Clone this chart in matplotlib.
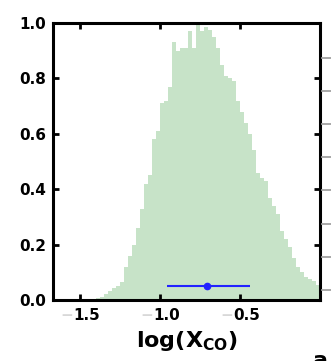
import numpy as np
import matplotlib
matplotlib.use("Agg")
import matplotlib.pyplot as plt

# posterior histogram of log(X_CO), normalised to peak = 1
bin_start = -1.45
bin_width = 0.025
hist_vals = [0.003, 0.005, 0.008, 0.012, 0.022, 0.032, 0.043, 0.052, 0.065, 0.12,
             0.16, 0.20, 0.26, 0.33, 0.42, 0.45, 0.58, 0.61, 0.71, 0.72,
             0.77, 0.93, 0.90, 0.91, 0.91, 0.97, 0.91, 0.995, 0.97, 0.985,
             0.975, 0.95, 0.91, 0.85, 0.81, 0.80, 0.79, 0.72, 0.68, 0.64,
             0.60, 0.54, 0.46, 0.44, 0.43, 0.37, 0.34, 0.31, 0.25, 0.22,
             0.19, 0.15, 0.12, 0.10, 0.083, 0.076, 0.070, 0.055]
edges = bin_start + bin_width * np.arange(len(hist_vals) + 1)

# best fit and range
best = -0.71
err_lo = 0.25
err_hi = 0.27
best_y = 0.05

xticks = [-1.5, -1.0, -0.5]
xtick_digits = ["1.5", "1.0", "0.5"]
yticks = [0.0, 0.2, 0.4, 0.6, 0.8, 1.0]

plt.rcParams["font.family"] = ["DejaVu Sans"]
plt.rcParams["mathtext.fontset"] = "dejavusans"

fig = plt.figure(figsize=(3.31, 3.61), dpi=100)
ax = fig.add_axes([0.160, 0.169, 0.807, 0.767])

ax.stairs(hist_vals, edges, fill=True, color="#c7e3c8", lw=0)
ax.errorbar([best], [best_y], xerr=[[err_lo], [err_hi]], fmt="o", color="#2222ff",
            ms=4.5, lw=1.5, capsize=0, zorder=5)

ax.set_xlim(-1.67, 0.0)
ax.set_ylim(0, 1.0)
ax.set_xticks(xticks)
ax.set_yticks(yticks)
ax.set_yticklabels(["%.1f" % v for v in yticks], fontweight="bold")

for s in ax.spines.values():
    s.set_linewidth(2.2)
ax.tick_params(direction="in", length=4, width=2, top=True, right=True,
               labelsize=11, pad=5)
ax.tick_params(axis="x", labelbottom=False)

ax.set_xlabel(r"$\mathbf{log(X_{CO})}$", fontsize=16, labelpad=21)

# x tick labels: faint grey minus sign, black digits, whole label centred on the tick
renderer = fig.canvas.get_renderer()
probe = fig.text(0, 0, "\u2212", fontsize=11, fontweight="bold")
w_minus = probe.get_window_extent(renderer).width * 72 / fig.dpi
probe.remove()
for xt, dig in zip(xticks, xtick_digits):
    probe = fig.text(0, 0, dig, fontsize=11, fontweight="bold")
    w_dig = probe.get_window_extent(renderer).width * 72 / fig.dpi
    probe.remove()
    x0 = -(w_minus + w_dig) / 2
    ax.annotate("\u2212", xy=(xt, 0), xycoords=("data", "axes fraction"),
                xytext=(x0, -6), textcoords="offset points", ha="left", va="top",
                fontsize=11, fontweight="bold", color="#d8d8d8")
    ax.annotate(dig, xy=(xt, 0), xycoords=("data", "axes fraction"),
                xytext=(x0 + w_minus, -6), textcoords="offset points", ha="left", va="top",
                fontsize=11, fontweight="bold", color="black")

# neighbouring panel's ticks poking in from the right
ax2 = fig.add_axes([1.027, 0.197, 0.2, 0.643])
ax2.set_ylim(0, 7)
ax2.set_yticks(range(8))
ax2.set_yticklabels([])
ax2.set_xticks([])
for s in ax2.spines.values():
    s.set_visible(False)
ax2.tick_params(axis="y", direction="out", length=14, width=1.2, color="#9a9a9a")
ax2.patch.set_visible(False)

fig.text(0.967, 0.028, "a", ha="center", va="top", fontsize=16, fontweight="bold")

fig.savefig("out.png", dpi=100)
